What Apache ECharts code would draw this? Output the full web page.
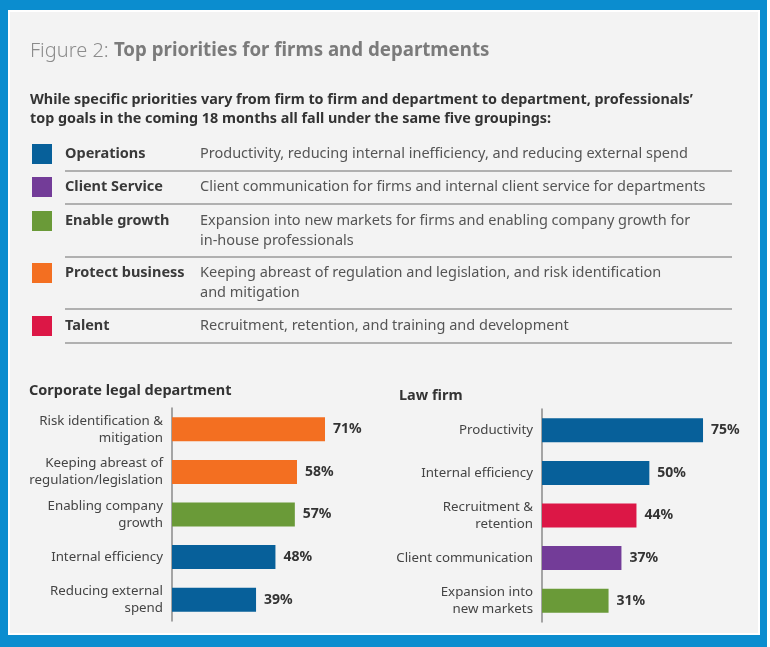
<!DOCTYPE html>
<html><head><meta charset="utf-8">
<script src="https://cdn.jsdelivr.net/npm/echarts@6/dist/echarts.min.js"></script>
<style>html,body{margin:0;padding:0;background:#fff}#c{width:770px;height:647px}</style>
</head><body><div id="c"></div>
<script>
// ---- data ----
const titleLight = 'Figure 2: ';
const titleBold = 'Top priorities for firms and departments';
const subtitle = 'While specific priorities vary from firm to firm and department to department, professionals’\ntop goals in the coming 18 months all fall under the same five groupings:';
const legendGroups = ['Operations', 'Client Service', 'Enable growth', 'Protect business', 'Talent'];
const legendDescriptions = [
  'Productivity, reducing internal inefficiency, and reducing external spend',
  'Client communication for firms and internal client service for departments',
  'Expansion into new markets for firms and enabling company growth for\nin-house professionals',
  'Keeping abreast of regulation and legislation, and risk identification\nand mitigation',
  'Recruitment, retention, and training and development'
];
const corpTitle = 'Corporate legal department';
const corpCategories = ['Risk identification &\nmitigation', 'Keeping abreast of\nregulation/legislation', 'Enabling company\ngrowth', 'Internal efficiency', 'Reducing external\nspend'];
const corpValues = [71, 58, 57, 48, 39];
const corpGroups = ['Protect business', 'Protect business', 'Enable growth', 'Operations', 'Operations'];
const lawTitle = 'Law firm';
const lawCategories = ['Productivity', 'Internal efficiency', 'Recruitment &\nretention', 'Client communication', 'Expansion into\nnew markets'];
const lawValues = [75, 50, 44, 37, 31];
const lawGroups = ['Operations', 'Operations', 'Talent', 'Client Service', 'Enable growth'];

// ---- styles ----
const groupColors = {
  'Operations': '#07609a',
  'Client Service': '#733c98',
  'Enable growth': '#6a9a38',
  'Protect business': '#f36f21',
  'Talent': '#dc1746'
};
const FONT = '"Noto Sans", "Open Sans", sans-serif';
const rowY = [154, 187, 221, 273, 326];
const lineY = [171, 204, 257, 309, 343];

const graphics = [
  { type: 'rect', shape: { x: 0, y: 0, width: 767, height: 647 }, style: { fill: '#0b8dcf' }, silent: true, z: -10 },
  { type: 'rect', shape: { x: 9, y: 11, width: 750, height: 623 }, style: { fill: '#f3f3f3', stroke: '#ffffff', lineWidth: 2 }, silent: true, z: -9 },
  { type: 'text', x: 30, y: 51, style: { text: '{a|' + titleLight + '}{b|' + titleBold + '}', verticalAlign: 'middle',
      rich: { a: { fontFamily: FONT, fontSize: 20, fontWeight: 300, fill: '#8c8c8c' }, b: { fontFamily: FONT, fontSize: 18.7, fontWeight: 'bold', fill: '#7b7b7b' } } } },
  { type: 'text', x: 30, y: 109, style: { text: subtitle, fontFamily: FONT, fontSize: 14.35, fontWeight: 'bold', fill: '#333', lineHeight: 19, verticalAlign: 'middle' } },
  { type: 'text', x: 29, y: 391, style: { text: corpTitle, fontFamily: FONT, fontSize: 14.5, fontWeight: 'bold', fill: '#333', verticalAlign: 'middle' } },
  { type: 'text', x: 399, y: 396, style: { text: lawTitle, fontFamily: FONT, fontSize: 14.5, fontWeight: 'bold', fill: '#333', verticalAlign: 'middle' } }
];
legendGroups.forEach((g, i) => {
  graphics.push({ type: 'rect', shape: { x: 32, y: rowY[i] - 10, width: 20, height: 20 }, style: { fill: groupColors[g] } });
  graphics.push({ type: 'text', x: 65, y: rowY[i], style: { text: g, fontFamily: FONT, fontSize: 14.5, fontWeight: 'bold', fill: '#3a3a3a', verticalAlign: 'middle' } });
  graphics.push({ type: 'text', x: 200, y: rowY[i] - 9.5, style: { text: legendDescriptions[i], fontFamily: FONT, fontSize: 14.5, fill: '#555', lineHeight: 19.5, verticalAlign: 'top' } });
  graphics.push({ type: 'line', shape: { x1: 65, y1: lineY[i], x2: 732, y2: lineY[i] }, style: { stroke: '#9a9a9a', lineWidth: 1.5 } });
});

function makeSeries(values, groups, idx) {
  return {
    type: 'bar', xAxisIndex: idx, yAxisIndex: idx, barWidth: 24,
    data: values.map((v, i) => ({ value: v, itemStyle: { color: groupColors[groups[i]] } })),
    label: { show: true, position: 'right', distance: 8, formatter: '{c}%', fontFamily: FONT, fontSize: 14, fontWeight: 'bold', color: '#333' },
    silent: true
  };
}
function yAx(cats, idx) {
  return {
    type: 'category', gridIndex: idx, data: cats, inverse: true,
    axisLine: { show: true, lineStyle: { color: '#8a8a8a', width: 1.5 } }, axisTick: { show: false },
    axisLabel: { margin: 9, fontFamily: FONT, fontSize: 13.3, color: '#444', lineHeight: 17, align: 'right' }
  };
}
function xAx(idx) {
  return { type: 'value', gridIndex: idx, min: 0, max: 100, show: false, splitLine: { show: false } };
}

const chart = echarts.init(document.getElementById('c'), null, { renderer: 'canvas' });
chart.setOption({
  animation: false,
  backgroundColor: '#ffffff',
  graphic: { elements: graphics },
  grid: [
    { left: 172, top: 408, width: 215.5, height: 213 },
    { left: 542, top: 409, width: 214.7, height: 213 }
  ],
  xAxis: [xAx(0), xAx(1)],
  yAxis: [yAx(corpCategories, 0), yAx(lawCategories, 1)],
  series: [makeSeries(corpValues, corpGroups, 0), makeSeries(lawValues, lawGroups, 1)]
});
</script></body></html>
